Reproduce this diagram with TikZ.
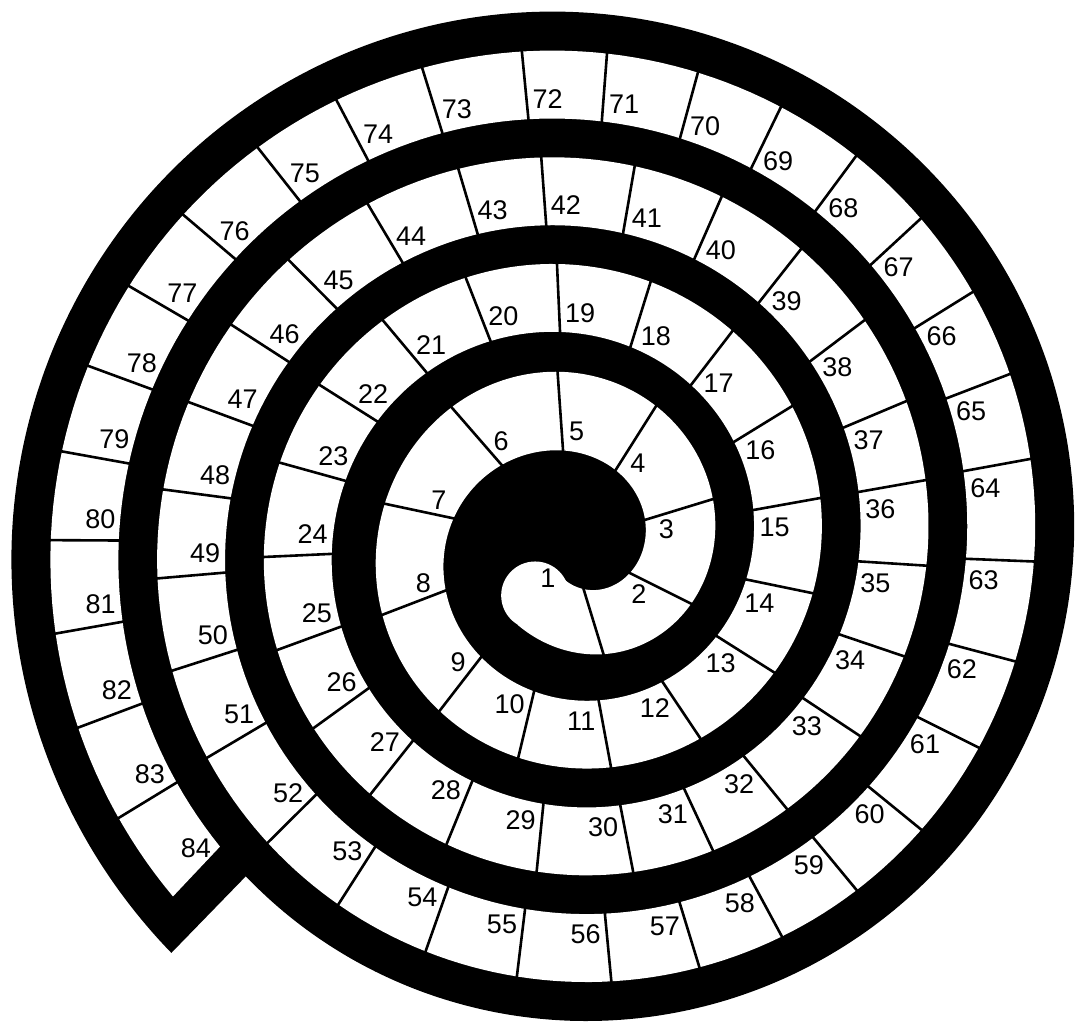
\documentclass[tikz,border=0pt]{standalone}
\usepackage{fontspec}
\setmainfont{Liberation Sans}
\begin{document}
\begin{tikzpicture}[x=0.5pt,y=0.5pt,
  declare function={
    ca(\t)=13*exp(-min(((\t-2.0)/1.4)*((\t-2.0)/1.4),9));
    co(\t)=6*exp(-min((\t-2.9)*(\t-2.9),9));
    cb(\t)=12*exp(-min((\t+2)*(\t+2),9));
    rin(\t)=77+17*\t-ca(\t)-cb(\t);
    rout(\t)=145+17*\t-co(\t)-cb(\t);
    rblk(\t)=184+17*\t;
    thd(\s)=(10*sqrt(125.44+0.34*\s)-112)/17;
  },
  divider/.style={line width=1.3pt},
  cellnum/.style={font=\fontsize{13.5}{15}\selectfont, inner sep=0pt, text=black},
]
\pgfmathsetmacro\tS{-2.15}
\pgfmathsetmacro\tE{thd(6932)}
\pgfmathsetmacro\tC{\tE+0.072}
\pgfmathsetmacro\tB{\tC-2*pi}
\fill[white] (-569.5,-489) rectangle (508.5,543);
\useasboundingbox (-569.5,-489) rectangle (508.5,543);
% black spiral body
\fill[black] plot[domain=\tB:\tC,samples=400] ({deg(\x)}:{rblk(\x)}) -- cycle;
% white track
\fill[white] plot[domain=\tS:\tE,samples=900] ({deg(\x)}:{rin(\x)})
  -- plot[domain=\tE:\tS,samples=900] ({deg(\x)}:{rout(\x)}) -- cycle;
\pgfmathsetmacro\rS{(rin(\tS)+rout(\tS))/2}
\fill[white] ({deg(\tS)}:\rS) circle[radius=34];
% dividers and numbers
\foreach \k/\s in {1/-128.9, 2/-50, 3/34, 4/121.4, 5/206.6, 6/300.5, 7/401.5, 8/497.5, 9/593.7, 10/672, 11/752, 12/832.9, 13/918.6, 14/995.1, 15/1078.4, 16/1162.5, 17/1246.7, 18/1330.8, 19/1415, 20/1496.7, 21/1579.4, 22/1659.8, 23/1737.6, 24/1823.1, 25/1907.2, 26/1984.4, 27/2062.8, 28/2144.6, 29/2229.5, 30/2316.7, 31/2391.3, 32/2468.1, 33/2561.7, 34/2644.3, 35/2729.1, 36/2806.9, 37/2880.9, 38/2963.9, 39/3050.9, 40/3137.8, 41/3222.1, 42/3308, 43/3384.7, 44/3473.8, 45/3562.8, 46/3642.2, 47/3723.4, 48/3807.1, 49/3889.2, 50/3975.3, 51/4061.8, 52/4158.2, 53/4244.9, 54/4336.5, 55/4424.1, 56/4511.7, 57/4594.3, 58/4675.9, 59/4757.5, 60/4839.6, 61/4932.6, 62/5019.6, 63/5114.1, 64/5209.6, 65/5290.9, 66/5374.7, 67/5458.5, 68/5542.3, 69/5626, 70/5709.8, 71/5796.5, 72/5876, 73/5970.4, 74/6056, 75/6141.9, 76/6235.8, 77/6319.6, 78/6403.5, 79/6487.3, 80/6571.1, 81/6658.8, 82/6749.5, 83/6842.4, 84/6932}{
  \pgfmathsetmacro\tht{thd(\s)}
  \ifnum\k<84
    \draw[divider] ({deg(\tht)}:{rin(\tht)-1}) -- ({deg(\tht)}:{rout(\tht)+1});
  \fi
  \ifnum\k>1
    \pgfmathsetmacro\rlab{rin(\tht)+19}
    \pgfmathsetmacro\tlab{\tht-(\k<10 ? 15 : 21)/\rlab}
    \node[cellnum] (n\k) at ({deg(\tlab)}:\rlab) {\k};
  \fi
}
\node[cellnum] (n1) at (-21.5,-35) {1};
\end{tikzpicture}
\end{document}
